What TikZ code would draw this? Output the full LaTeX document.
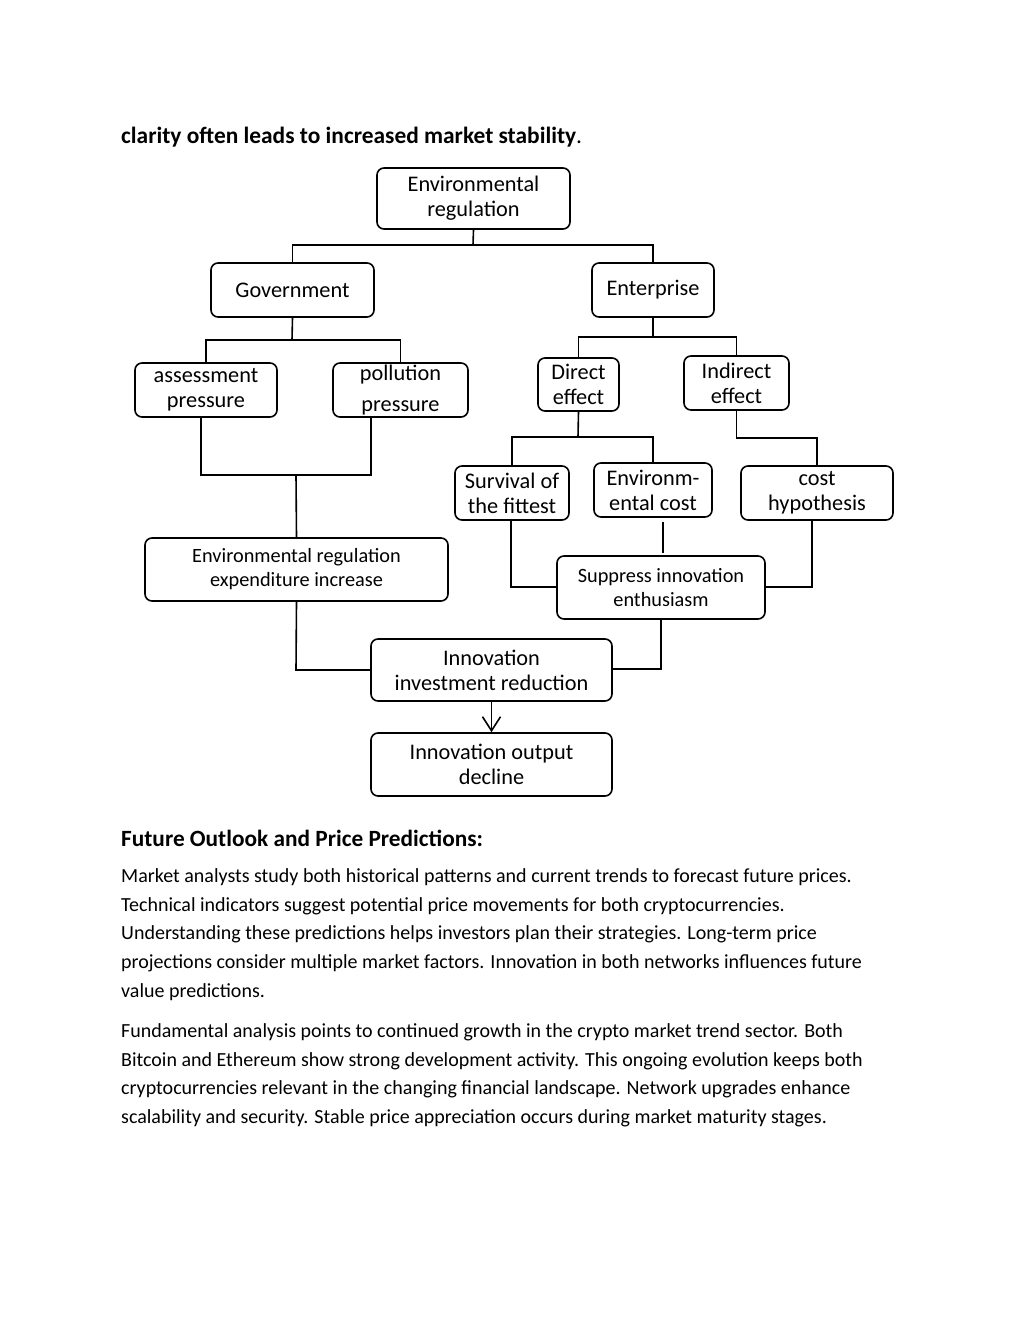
\documentclass[tikz,border=0pt]{standalone}
\usepackage{fontspec}
\setmainfont{Carlito}
\usetikzlibrary{arrows.meta}
\newcommand{\bodyfont}{\fontsize{20}{24}\selectfont}
\newcommand{\headfont}{\fontsize{23.3}{27}\selectfont\bfseries}
\newcommand{\bigbox}{\fontsize{22.3}{25}\selectfont}
\newcommand{\smallbox}{\fontsize{20.3}{24}\selectfont}
\begin{document}
\begin{tikzpicture}[x=1pt,y=-1pt,
  box/.style={draw, line width=1.6pt, rounded corners=7pt, align=center, inner sep=0pt, font=\bigbox},
  sbox/.style={box, font=\smallbox},
  conn/.style={line width=1.6pt},
  txt/.style={anchor=base west, inner sep=0pt, font=\bodyfont}]
\useasboundingbox (0,0) rectangle (1024,1325);
\fill[white] (0,0) rectangle (1024,1325);

% header text
\node[anchor=base west, inner sep=0pt, font=\fontsize{23.4}{27}\selectfont] (title) at (121,143) {\textbf{clarity often leads to increased market stability}.};

% boxes
\node[box, minimum width=193pt, minimum height=61pt] (env) at (473.5,198.5) {Environmental\\regulation};
\node[box, minimum width=163pt, minimum height=54pt] (gov) at (292.5,290) {Government};
\node[box, minimum width=122pt, minimum height=54pt] (ent) at (653,290) {Enterprise};
\node[box, minimum width=142pt, minimum height=54pt] (ass) at (206,390) {assessment\\pressure};
\node[box, minimum width=135pt, minimum height=54pt] (pol) at (400.5,390) {pollution\\[6pt]pressure};
\node[box, minimum width=81pt, minimum height=53pt] (dir) at (578.5,384.5) {Direct\\effect};
\node[box, minimum width=105pt, minimum height=54pt] (ind) at (736.5,383) {Indirect\\effect};
\node[box, minimum width=114pt, minimum height=54pt] (sur) at (512,493) {Survival of\\the fittest};
\node[box, minimum width=118pt, minimum height=54pt] (ecost) at (653,490) {Environm-\\ental cost};
\node[box, minimum width=152pt, minimum height=54pt] (costh) at (817,493) {cost\\hypothesis};
\node[sbox, minimum width=303pt, minimum height=63pt] (exp) at (296.5,569.5) {Environmental regulation\\expenditure increase};
\node[sbox, minimum width=208pt, minimum height=63pt] (sup) at (661,587.5) {Suppress innovation\\enthusiasm};
\node[box, minimum width=241pt, minimum height=62pt] (inv) at (491.5,670) {Innovation\\investment reduction};
\node[box, minimum width=241pt, minimum height=63pt] (out) at (491.5,764.5) {Innovation output\\decline};

% junction coordinates
\coordinate (j1) at (473,245);
\coordinate (j2) at (292,340);
\coordinate (j3) at (653,337);
\coordinate (j4) at (578,437);
\coordinate (j5) at (737,438);
\coordinate (aL) at (201,475);
\coordinate (pL) at (371,475);
\coordinate (mid) at (296,475);
\coordinate (sL) at (511,587);
\coordinate (cR) at (812,587);
\coordinate (ec1) at (663,522);
\coordinate (ec2) at (663,553);
\coordinate (e1) at (296,670);
\coordinate (s1) at (661,669);

% connectors
\draw[conn] (env.south) -- (j1);
\draw[conn] (gov.north) |- (j1) -| (ent.north);
\draw[conn] (gov.south) -- (j2);
\draw[conn] (ass.north) |- (j2) -| (pol.north);
\draw[conn] (ent.south) -- (j3);
\draw[conn] (dir.north) |- (j3) -| (ind.north);
\draw[conn] (dir.south) -- (j4);
\draw[conn] (sur.north) |- (j4) -| (ecost.north);
\draw[conn] (ind.south) |- (j5) -| (costh.north);
\draw[conn] (ass.south -| aL) -- (aL) -- (pL) -- (pol.south -| pL);
\draw[conn] (mid) -- (exp.north);
\draw[conn] (sur.south -| sL) -- (sL) -- (sup.west |- sL);
\draw[conn] (costh.south -| cR) -- (cR) -- (sup.east |- cR);
\draw[conn] (ec1) -- (ec2);
\draw[conn] (exp.south) -- (e1) -- (inv.west |- e1);
\draw[conn] (sup.south) -- (s1) -- (inv.east |- s1);
\draw[conn, -{Straight Barb[length=14pt,width=18pt,line width=1.6pt]}] (inv.south) -- (out.north);

% lower text
\node[anchor=base west, inner sep=0pt, font=\headfont] (head) at (121,846) {Future Outlook and Price Predictions:};
\node[txt] (p1) at (121,882) {Market analysts study both historical patterns and current trends to forecast future prices.};
\node[txt] (p2) at (121,911) {Technical indicators suggest potential price movements for both cryptocurrencies.};
\node[txt] (p3) at (121,939.5) {Understanding these predictions helps investors plan their strategies. Long-term price};
\node[txt] (p4) at (121,968) {projections consider multiple market factors. Innovation in both networks influences future};
\node[txt] (p5) at (121,997) {value predictions.};
\node[txt] (q1) at (121,1037.5) {Fundamental analysis points to continued growth in the crypto market trend sector. Both};
\node[txt] (q2) at (121,1066) {Bitcoin and Ethereum show strong development activity. This ongoing evolution keeps both};
\node[txt] (q3) at (121,1094.5) {cryptocurrencies relevant in the changing financial landscape. Network upgrades enhance};
\node[txt] (q4) at (121,1123) {scalability and security. Stable price appreciation occurs during market maturity stages.};
\end{tikzpicture}
\end{document}
